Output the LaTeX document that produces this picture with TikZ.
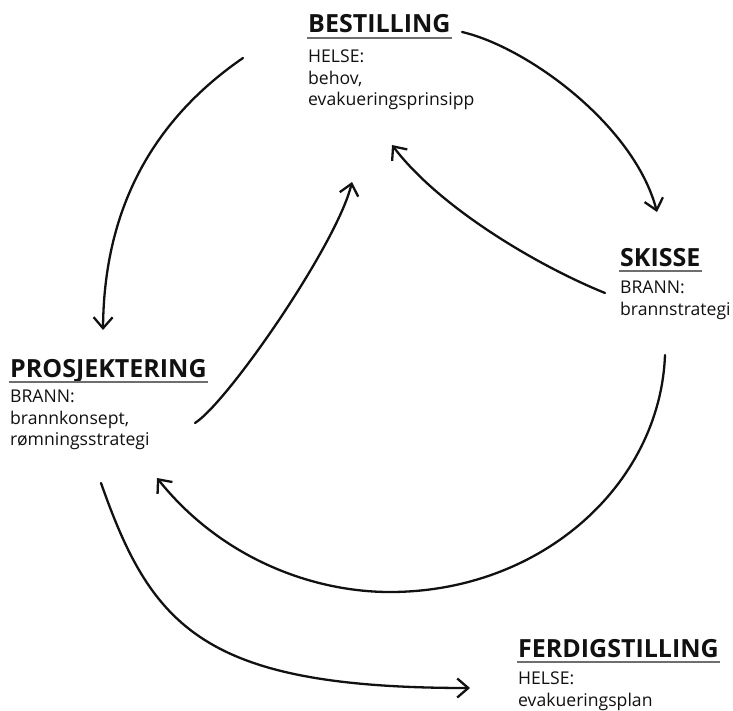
\documentclass[tikz,border=0pt]{standalone}
\usepackage{fontspec}
\setmainfont{Open Sans}
\usetikzlibrary{arrows.meta, positioning}
\definecolor{inkblack}{RGB}{17,17,17}
\definecolor{rulegrey}{RGB}{110,110,110}

\begin{document}
\begin{tikzpicture}[
  x=1pt, y=1pt,
  stage/.style={inner sep=0pt, anchor=base west, text=inkblack,
                font=\fontsize{25}{30}\selectfont\bfseries},
  detail/.style={inner sep=0pt, align=left, text=inkblack,
                 font=\fontsize{17.6}{21.5}\selectfont},
  rule/.style={draw=rulegrey, line width=1.6pt},
  flow/.style={draw=inkblack, line width=2.3pt, line cap=round,
               -{Straight Barb[length=11pt,width=19pt,line width=2.3pt]}}
]
\useasboundingbox (0,0) rectangle (733,-711);

% stages
\node[stage] (best) at (308,-33) {BESTILLING};
\node[detail, below=17pt of best.base west, anchor=north west] (bestTxt)
  {HELSE:\\behov,\\evakueringsprinsipp};
\node[stage] (skisse) at (620,-266) {SKISSE};
\node[detail, below=15pt of skisse.base west, anchor=north west] (skisseTxt)
  {BRANN:\\brannstrategi};
\node[stage] (prosj) at (10,-377) {PROSJEKTERING};
\node[detail, below=13pt of prosj.base west, anchor=north west] (prosjTxt)
  {BRANN:\\brannkonsept,\\rømningsstrategi};
\node[stage] (ferdig) at (518,-657) {FERDIGSTILLING};
\node[detail, below=15pt of ferdig.base west, anchor=north west] (ferdigTxt)
  {HELSE:\\evakueringsplan};

% underlines
\foreach \n in {best,skisse,prosj,ferdig}
  \draw[rule] ([xshift=-1pt,yshift=-5pt]\n.base west) -- ([xshift=1pt,yshift=-5pt]\n.base east);

% arrow ends
\coordinate (best-l) at (243,-58);
\coordinate (best-r) at (462,-32);
\coordinate (best-b) at (392,-145);
\coordinate (best-bl) at (352,-182);
\coordinate (skisse-t) at (657,-212);
\coordinate (skisse-l) at (605,-293);
\coordinate (skisse-b) at (665,-355);
\coordinate (prosj-t) at (103,-330);
\coordinate (prosj-r) at (195,-423);
\coordinate (prosj-br) at (157,-478);
\coordinate (prosj-b) at (101,-483);
\coordinate (ferdig-l) at (470,-688);

% cycle
\draw[flow] (best-l) .. controls (150,-122) and (104,-212) .. (prosj-t);
\draw[flow] (best-r) .. controls (527,-47) and (634,-125) .. (skisse-t);
\draw[flow] (skisse-l) .. controls (536,-265) and (439,-207) .. (best-b);
\draw[flow] (prosj-r) .. controls (228,-402) and (337,-244) .. (best-bl);
\draw[flow] (skisse-b) .. controls (660,-485) and (541,-592) .. (390,-592)
  .. controls (312,-592) and (221,-558) .. (prosj-br);
\draw[flow] (prosj-b) .. controls (152,-628) and (204,-688) .. (ferdig-l);
\end{tikzpicture}
\end{document}
